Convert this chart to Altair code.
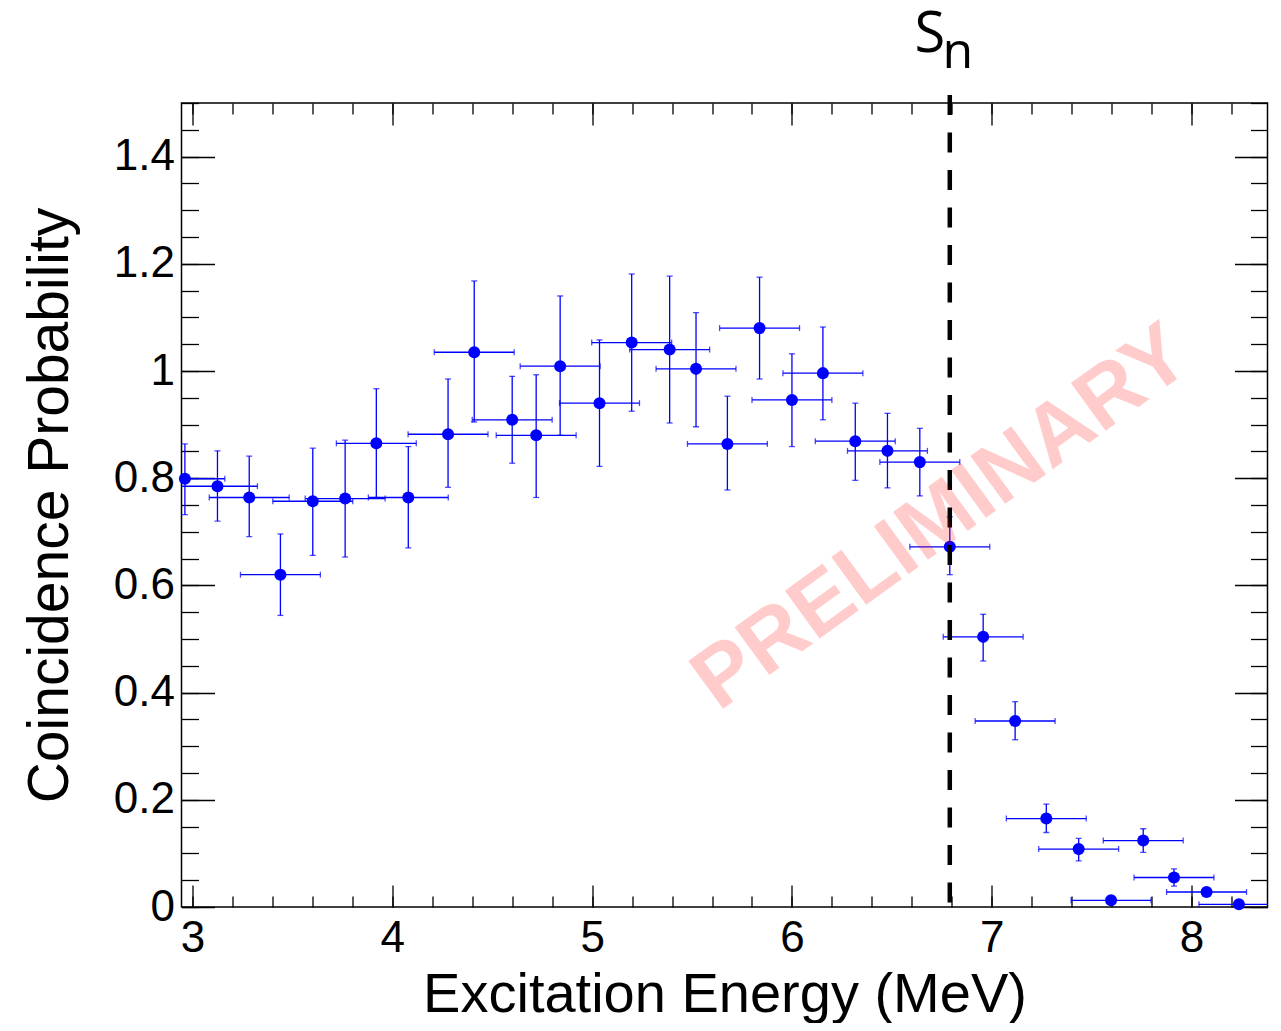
import altair as alt
import pandas as pd

# ---- data ----
energy = [2.962, 3.125, 3.284, 3.440, 3.602, 3.764, 3.920, 4.080, 4.279, 4.410,
          4.600, 4.720, 4.840, 5.037, 5.198, 5.388, 5.520, 5.677, 5.838, 6.000,
          6.155, 6.317, 6.478, 6.640, 6.790, 6.957, 7.117, 7.273, 7.435, 7.597,
          7.758, 7.912, 8.075, 8.237]
energy_err = [0.2, 0.2, 0.2, 0.2, 0.2, 0.2, 0.2, 0.2, 0.2, 0.2,
              0.2, 0.2, 0.2, 0.2, 0.2, 0.2, 0.2, 0.2, 0.2, 0.2,
              0.2, 0.2, 0.2, 0.2, 0.2, 0.2, 0.2, 0.2, 0.2, 0.2,
              0.2, 0.2, 0.2, 0.2]
prob = [0.799, 0.785, 0.764, 0.620, 0.757, 0.762, 0.865, 0.764, 0.882, 1.035,
        0.909, 0.880, 1.009, 0.940, 1.053, 1.040, 1.004, 0.864, 1.080, 0.946,
        0.996, 0.869, 0.851, 0.830, 0.672, 0.504, 0.347, 0.165, 0.108, 0.0125,
        0.124, 0.055, 0.028, 0.005]
prob_lo = [0.732, 0.720, 0.691, 0.544, 0.656, 0.653, 0.764, 0.670, 0.783, 0.905,
           0.828, 0.764, 0.880, 0.822, 0.925, 0.903, 0.896, 0.778, 0.985, 0.859,
           0.909, 0.796, 0.782, 0.767, 0.620, 0.459, 0.312, 0.139, 0.086, 0.008,
           0.102, 0.039, 0.021, 0.002]
prob_hi = [0.864, 0.851, 0.841, 0.696, 0.856, 0.871, 0.967, 0.859, 0.985, 1.168,
           0.990, 0.993, 1.140, 1.058, 1.181, 1.177, 1.109, 0.953, 1.175, 1.032,
           1.082, 0.940, 0.921, 0.893, 0.728, 0.546, 0.383, 0.192, 0.128, 0.017,
           0.146, 0.071, 0.035, 0.008]

sn_energy = [6.79]
sn_top = [1.515]
sn_bottom = [0.0]

x_major = [3, 4, 5, 6, 7, 8]
x_minor = [3.0, 3.2, 3.4, 3.6, 3.8, 4.0, 4.2, 4.4, 4.6, 4.8, 5.0, 5.2, 5.4, 5.6,
           5.8, 6.0, 6.2, 6.4, 6.6, 6.8, 7.0, 7.2, 7.4, 7.6, 7.8, 8.0, 8.2]
y_major = [0, 0.2, 0.4, 0.6, 0.8, 1.0, 1.2, 1.4]
y_minor = [0, 0.05, 0.1, 0.15, 0.2, 0.25, 0.3, 0.35, 0.4, 0.45, 0.5, 0.55, 0.6,
           0.65, 0.7, 0.75, 0.8, 0.85, 0.9, 0.95, 1.0, 1.05, 1.1, 1.15, 1.2,
           1.25, 1.3, 1.35, 1.4, 1.45, 1.5]

x_title = "Excitation Energy (MeV)"
y_title = "Coincidence Probability"
watermark = "PRELIMINARY"

# ---- tables ----
df = pd.DataFrame({"e": energy, "de": energy_err, "p": prob, "lo": prob_lo, "hi": prob_hi})
df["elo"] = df["e"] - df["de"]
df["ehi"] = df["e"] + df["de"]
sn_df = pd.DataFrame({"sn": sn_energy, "top": sn_top, "bot": sn_bottom})

W, H = 1086, 804
BLUE = "#0000ff"
FONT = "Liberation Sans"

xs = alt.Scale(domain=[2.945, 8.38], nice=False, zero=False)
ys = alt.Scale(domain=[0, 1.5], nice=False, zero=False)


def tick_axis(orient, offset, values, size):
    return alt.Axis(orient=orient, offset=offset, values=values, tickSize=size,
                    tickWidth=1.3, tickColor="black", labels=False, domain=False,
                    grid=False, title="")


x_label_axis = alt.Axis(orient="bottom", values=x_major, format="~g", ticks=False,
                        domain=False, grid=False, labelPadding=9, labelFontSize=44,
                        labelFont=FONT, labelColor="black",
                        title=x_title, titleFont=FONT, titleFontSize=56,
                        titleFontWeight="normal", titleColor="black",
                        titleX=W / 2, titleY=104, titleAlign="center",
                        titleBaseline="alphabetic")
y_label_axis = alt.Axis(orient="left", values=y_major, format="~g", ticks=False,
                        domain=False, grid=False, labelPadding=7, labelFontSize=44,
                        labelFont=FONT, labelColor="black",
                        title=y_title, titleFont=FONT, titleFontSize=57,
                        titleFontWeight="normal", titleColor="black",
                        titleX=-114, titleY=H / 2, titleAngle=270,
                        titleAlign="center", titleBaseline="alphabetic")

base = alt.Chart(df)

# horizontal error bars (carry label axes)
xerr = base.mark_rule(color=BLUE, strokeWidth=1.3, clip=True).encode(
    x=alt.X("elo:Q", scale=xs, axis=x_label_axis),
    x2="ehi:Q",
    y=alt.Y("p:Q", scale=ys, axis=y_label_axis),
)

# vertical error bars (inward major ticks bottom / left)
yerr = base.mark_rule(color=BLUE, strokeWidth=1.3, clip=True).encode(
    x=alt.X("e:Q", scale=xs, axis=tick_axis("top", -H, x_major, 22)),
    y=alt.Y("lo:Q", scale=ys, axis=tick_axis("right", -W, y_major, 33)),
    y2="hi:Q",
)

# caps on horizontal bars (inward minor ticks bottom / left)
xcaps = base.transform_fold(["elo", "ehi"], as_=["k", "v"]).mark_tick(
    color=BLUE, orient="vertical", size=6, thickness=1.3, clip=True
).encode(
    x=alt.X("v:Q", scale=xs, axis=tick_axis("top", -H, x_minor, 11)),
    y=alt.Y("p:Q", scale=ys, axis=tick_axis("right", -W, y_minor, 17)),
)

# caps on vertical bars (inward major ticks top / right)
ycaps = base.transform_fold(["lo", "hi"], as_=["k", "v"]).mark_tick(
    color=BLUE, orient="horizontal", size=6, thickness=1.3, clip=True
).encode(
    x=alt.X("e:Q", scale=xs, axis=tick_axis("bottom", -H, x_major, 22)),
    y=alt.Y("v:Q", scale=ys, axis=tick_axis("left", -W, y_major, 33)),
)

# points (inward minor ticks top / right)
points = base.mark_circle(color=BLUE, size=145, opacity=1).encode(
    x=alt.X("e:Q", scale=xs, axis=tick_axis("bottom", -H, x_minor, 11)),
    y=alt.Y("p:Q", scale=ys, axis=tick_axis("left", -W, y_minor, 17)),
)

# S_n dashed line
sn_line = alt.Chart(sn_df).mark_rule(color="black", strokeWidth=4.5,
                                     strokeDash=[20, 17.5]).encode(
    x=alt.X("sn:Q", scale=xs, axis=None),
    y=alt.Y("top:Q", scale=ys, axis=None),
    y2="bot:Q",
)

sn_S = alt.Chart(sn_df).mark_text(text="S", font="Open Sans", fontSize=56,
                                  color="black", align="center",
                                  baseline="alphabetic", dx=-20).encode(
    x=alt.X("sn:Q", scale=xs, axis=None),
    y=alt.value(-51),
)
sn_n = alt.Chart(sn_df).mark_text(text="n", font="Open Sans", fontSize=50,
                                  color="black", align="center",
                                  baseline="alphabetic", dx=8).encode(
    x=alt.X("sn:Q", scale=xs, axis=None),
    y=alt.value(-35),
)

wm = alt.Chart(sn_df).mark_text(text=watermark,
                                font="Liberation Sans",
                                fontWeight="bold", fontSize=86, color="red",
                                opacity=0.2, angle=324, align="center",
                                baseline="middle").encode(
    x=alt.value(760),
    y=alt.value(415),
)

chart = alt.layer(xerr, yerr, xcaps, ycaps, points, sn_line, sn_S, sn_n, wm).resolve_axis(
    x="independent", y="independent"
).properties(
    width=W, height=H,
    autosize=alt.AutoSizeParams(type="none"),
    padding={"left": 173.5, "top": 95, "right": 5, "bottom": 116},
    background="white",
).configure_view(stroke="black", strokeWidth=1.5)

chart.save("out.html", embed_options={"renderer": "svg", "actions": False})
